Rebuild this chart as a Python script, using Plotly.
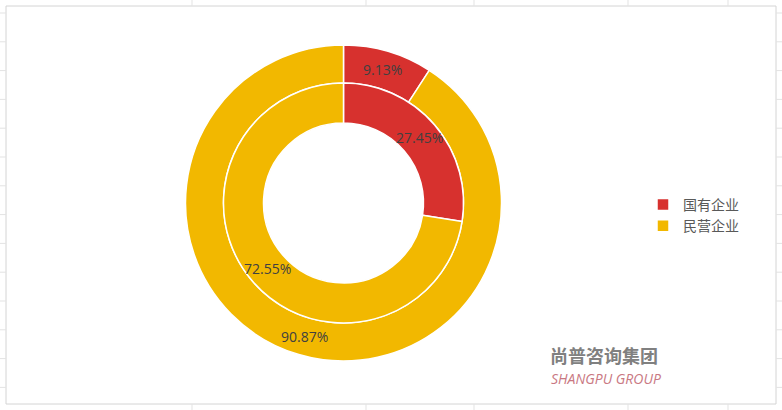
import math
import plotly.graph_objects as go

labels = ["国有企业", "民营企业"]
outer_values = [9.13, 90.87]
inner_values = [27.45, 72.55]
colors = ["#D7312E", "#F2B800"]

W, H = 782, 410
cx, cy = 343.5, 203.0
r_outer, r_mid, r_hole = 158.0, 120.0, 80.0


def dom(r):
    yb = H - cy
    return dict(x=[(cx - r) / W, (cx + r) / W], y=[(yb - r) / H, (yb + r) / H])


fig = go.Figure()
for vals, r_out, r_in, show in [(outer_values, r_outer, r_mid, True),
                                 (inner_values, r_mid, r_hole, False)]:
    fig.add_trace(go.Pie(
        labels=labels, values=vals, hole=r_in / r_out,
        domain=dom(r_out), sort=False, direction="clockwise", rotation=0,
        marker=dict(colors=colors, line=dict(color="white", width=1.5)),
        textinfo="none", hoverinfo="label+value", showlegend=show,
    ))

# data labels placed at the mid-angle / mid-radius of each slice
annotations = []
for vals, r_out, r_in in [(outer_values, r_outer, r_mid), (inner_values, r_mid, r_hole)]:
    total = sum(vals)
    cum = 0.0
    rm = (r_out + r_in) / 2
    for v in vals:
        a = 2 * math.pi * (cum + v / 2) / total
        cum += v
        px = cx + rm * math.sin(a)
        py = cy - rm * math.cos(a)
        annotations.append(dict(
            text=f"{v:.2f}%", xref="paper", yref="paper",
            x=px / W, y=(H - py) / H, xanchor="center", yanchor="middle",
            showarrow=False,
            font=dict(family="Open Sans, Noto Sans CJK SC", size=14, color="#404040")))

annotations += [
    dict(text="<b>尚普咨询集团</b>", xref="paper", yref="paper",
         x=548 / W, y=(H - 355) / H, xanchor="left", yanchor="middle", showarrow=False,
         font=dict(family="Noto Sans CJK SC", size=18, color="#808080")),
    dict(text="<i>SHANGPU GROUP</i>", xref="paper", yref="paper",
         x=549 / W, y=(H - 378) / H, xanchor="left", yanchor="middle", showarrow=False,
         font=dict(family="Open Sans", size=14, color="#C97882")),
]

shapes = [dict(type="rect", xref="paper", yref="paper",
               x0=6 / W, x1=776 / W, y0=(H - 404) / H, y1=(H - 6) / H,
               line=dict(color="#D4D4D4", width=1), fillcolor="rgba(0,0,0,0)", layer="below")]
# faint spreadsheet gridlines outside the chart frame
for gx in [192, 366, 474, 628, 728]:
    for y0, y1 in [(0, 6), (404, 410)]:
        shapes.append(dict(type="line", xref="paper", yref="paper",
                           x0=gx / W, x1=gx / W, y0=(H - y0) / H, y1=(H - y1) / H,
                           line=dict(color="#E3E3E3", width=1)))
gy = 13.0
while gy < 405:
    for x0, x1 in [(0, 6), (776, 782)]:
        shapes.append(dict(type="line", xref="paper", yref="paper",
                           x0=x0 / W, x1=x1 / W, y0=(H - gy) / H, y1=(H - gy) / H,
                           line=dict(color="#E3E3E3", width=1)))
    gy += 28.8

fig.update_layout(
    width=W, height=H,
    margin=dict(l=0, r=0, t=0, b=0),
    paper_bgcolor="white", plot_bgcolor="white",
    showlegend=True,
    legend=dict(x=643 / W, y=(H - 189) / H, xanchor="left", yanchor="top",
                font=dict(family="Noto Sans CJK SC", size=14, color="#595959"),
                itemwidth=30, tracegroupgap=0, bgcolor="rgba(0,0,0,0)"),
    shapes=shapes, annotations=annotations,
)

fig.write_html("out.html", config={"displayModeBar": False},
               post_script="document.body.style.margin='0';document.body.style.overflow='hidden';")
